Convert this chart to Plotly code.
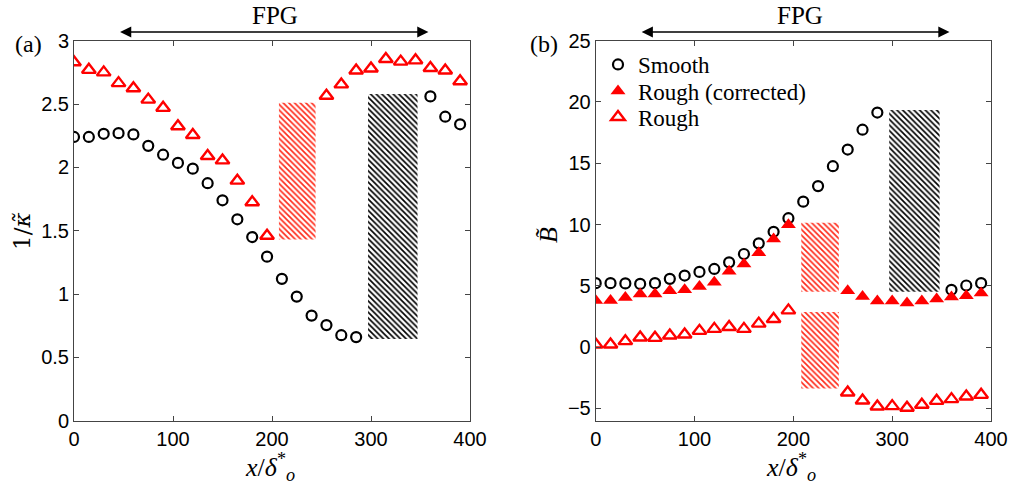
import plotly.graph_objects as go

# ---------------- data ----------------
# Panel (a): 1/kappa
kap_smooth_x = [0, 15, 30, 45, 60, 75, 90, 105, 120, 135, 150, 165, 180, 195, 210, 225, 240, 255, 270, 285, 360, 375, 390]
kap_smooth_y = [2.24, 2.24, 2.265, 2.27, 2.26, 2.17, 2.10, 2.035, 1.99, 1.875, 1.74, 1.59, 1.45, 1.295, 1.12, 0.98, 0.83, 0.755, 0.675, 0.66, 2.56, 2.40, 2.34]
kap_rough_x = [0, 15, 30, 45, 60, 75, 90, 105, 120, 135, 150, 165, 180, 195, 255, 270, 285, 300, 315, 330, 345, 360, 375, 390]
kap_rough_y = [2.83, 2.77, 2.75, 2.665, 2.625, 2.535, 2.47, 2.325, 2.255, 2.09, 2.055, 1.895, 1.725, 1.46, 2.565, 2.655, 2.765, 2.78, 2.855, 2.835, 2.845, 2.785, 2.765, 2.68]

# Panel (b): B
b_smooth_x = [0, 15, 30, 45, 60, 75, 90, 105, 120, 135, 150, 165, 180, 195, 210, 225, 240, 255, 270, 285, 360, 375, 390]
b_smooth_y = [5.22, 5.22, 5.2, 5.16, 5.22, 5.57, 5.84, 6.14, 6.38, 6.92, 7.6, 8.47, 9.41, 10.52, 11.87, 13.14, 14.76, 16.12, 17.74, 19.14, 4.68, 5.03, 5.22]
b_corr_x = [0, 15, 30, 45, 60, 75, 90, 105, 120, 135, 150, 165, 180, 195, 255, 270, 285, 300, 315, 330, 345, 360, 375, 390]
b_corr_y = [3.81, 3.81, 4.06, 4.33, 4.33, 4.6, 4.68, 4.95, 5.3, 6.2, 6.79, 7.71, 8.82, 9.98, 4.6, 4.14, 3.76, 3.76, 3.6, 3.76, 3.92, 4.09, 4.19, 4.41]
b_rough_x = [0, 15, 30, 45, 60, 75, 90, 105, 120, 135, 150, 165, 180, 195, 255, 270, 285, 300, 315, 330, 345, 360, 375, 390]
b_rough_y = [0.22, 0.22, 0.49, 0.79, 0.76, 0.95, 1.03, 1.33, 1.49, 1.65, 1.49, 1.92, 2.3, 3.0, -3.7, -4.35, -4.84, -4.81, -4.94, -4.7, -4.38, -4.24, -4.03, -3.89]

# hatched bands: [x0, x1, y0, y1]
kap_red_band = [207, 244, 1.43, 2.51]
kap_black_band = [297, 347, 0.645, 2.58]
b_red_band_up = [208, 246, 4.52, 10.15]
b_red_band_lo = [208, 246, -3.38, 2.87]
b_black_band = [297, 348, 4.52, 19.35]

fpg_range = [45, 358]

x_ticks = [0, 100, 200, 300, 400]
kap_ticks = [0, 0.5, 1, 1.5, 2, 2.5, 3]
kap_tick_text = ["0", "0.5", "1", "1.5", "2", "2.5", "3"]
b_ticks = [-5, 0, 5, 10, 15, 20, 25]

# ---------------- figure ----------------
W, H = 1013, 491
SERIF = "Liberation Serif, Times New Roman, serif"
SANS = "Liberation Sans, Arial, sans-serif"
RED = "#ff0000"

fig = go.Figure()


def band(b, xa, ya, color):
    x0, x1, y0, y1 = b
    fig.add_trace(go.Scatter(
        x=[x0, x1, x1, x0, x0], y=[y0, y0, y1, y1, y0], xaxis=xa, yaxis=ya,
        mode="lines", line=dict(width=0), fill="toself", fillcolor="rgba(0,0,0,0)",
        fillpattern=dict(shape="\\", fgcolor=color, bgcolor="white", size=4, solidity=0.42),
        showlegend=False, hoverinfo="skip"))


band(kap_red_band, "x", "y", "#ff2a1a")
band(kap_black_band, "x", "y", "black")
band(b_red_band_up, "x2", "y2", "#ff2a1a")
band(b_red_band_lo, "x2", "y2", "#ff2a1a")
band(b_black_band, "x2", "y2", "black")

circ = dict(symbol="circle-open", size=10, color="black", line=dict(width=2.2, color="black"))
tri_open = dict(symbol="triangle-up-open", size=12, color=RED, line=dict(width=2.4, color=RED))
tri_fill = dict(symbol="triangle-up", size=13, color=RED, line=dict(width=0))

fig.add_trace(go.Scatter(x=kap_smooth_x, y=kap_smooth_y, mode="markers", marker=circ,
                         xaxis="x", yaxis="y", showlegend=False))
fig.add_trace(go.Scatter(x=kap_rough_x, y=kap_rough_y, mode="markers", marker=tri_open,
                         xaxis="x", yaxis="y", showlegend=False))

fig.add_trace(go.Scatter(x=b_smooth_x, y=b_smooth_y, mode="markers", marker=circ,
                         xaxis="x2", yaxis="y2", name="Smooth", legend="legend"))
fig.add_trace(go.Scatter(x=b_corr_x, y=b_corr_y, mode="markers", marker=tri_fill,
                         xaxis="x2", yaxis="y2", name="Rough (corrected)", legend="legend2"))
fig.add_trace(go.Scatter(x=b_rough_x, y=b_rough_y, mode="markers", marker=tri_open,
                         xaxis="x2", yaxis="y2", name="Rough", legend="legend3"))

ax_common = dict(showline=True, linecolor="#444444", linewidth=1, mirror="ticks",
                 ticks="inside", ticklen=5, tickcolor="#444444", showgrid=False,
                 zeroline=False, automargin=False,
                 tickfont=dict(family=SANS, size=20, color="black"))


def leg(ytop):
    return dict(x=598 / W, y=1 - ytop / H, xanchor="left", yanchor="top",
                font=dict(family=SERIF, size=23, color="black"), bgcolor="rgba(0,0,0,0)",
                borderwidth=0, tracegroupgap=0, itemwidth=30)


y0d, y1d = 1 - 420.7 / H, 1 - 40.7 / H
fig.update_layout(
    template="none",
    font=dict(family=SERIF, color="black"),
    width=W, height=H, margin=dict(l=0, r=0, t=0, b=0, pad=0, autoexpand=False),
    paper_bgcolor="white", plot_bgcolor="white",
    xaxis=dict(domain=[74 / W, 470 / W], range=[0, 400], tickvals=x_ticks, anchor="y", **ax_common),
    yaxis=dict(domain=[y0d, y1d], range=[0, 3], tickvals=kap_ticks, ticktext=kap_tick_text,
               anchor="x", **ax_common),
    xaxis2=dict(domain=[595.7 / W, 991 / W], range=[0, 400], tickvals=x_ticks, anchor="y2", **ax_common),
    yaxis2=dict(domain=[y0d, y1d], range=[-6, 25], tickvals=b_ticks, anchor="x2", **ax_common),
    legend=leg(43), legend2=leg(69.5), legend3=leg(95.5),
    showlegend=True,
)

# FPG arrows (double-headed)
yarrow = 1 - 32 / H
for xr in ("x", "x2"):
    fig.add_annotation(x=fpg_range[1], y=yarrow, xref=xr, yref="paper",
                       ax=fpg_range[0], ay=0, axref=xr, ayref="pixel",
                       text="", showarrow=True, arrowhead=2, arrowsize=1.6, arrowwidth=1.4,
                       arrowside="end+start", arrowcolor="black", standoff=0, startstandoff=0)

for xr, xc in (("x", 203), ("x2", 207)):
    fig.add_annotation(x=xc, y=1 - 16 / H, xref=xr, yref="paper", text="FPG", showarrow=False,
                       xanchor="center", yanchor="middle",
                       font=dict(family=SERIF, size=25, color="black"))

# panel labels
for xc, lab in ((28, "(a)"), (544, "(b)")):
    fig.add_annotation(x=xc / W, y=1 - 44 / H, xref="paper", yref="paper", text=lab, showarrow=False,
                       xanchor="center", yanchor="middle",
                       font=dict(family=SERIF, size=24, color="black"))

# axis titles
for xc in (270, 791):
    fig.add_annotation(x=xc / W, y=1 - 467 / H, xref="paper", yref="paper",
                       text="<i>x</i>/<i>δ</i><sup>*</sup><sub><i>o</i></sub>", showarrow=False,
                       xanchor="center", yanchor="middle",
                       font=dict(family=SERIF, size=26, color="black"))
fig.add_annotation(x=22 / W, y=1 - 232 / H, xref="paper", yref="paper", text="1/<i>κ\u0303</i>",
                   textangle=-90, showarrow=False, xanchor="center", yanchor="middle",
                   font=dict(family="DejaVu Serif", size=23, color="black"))
fig.add_annotation(x=549 / W, y=1 - 235 / H, xref="paper", yref="paper", text="<i>B\u0303</i>",
                   textangle=-90, showarrow=False, xanchor="center", yanchor="middle",
                   font=dict(family=SERIF, size=26, color="black"))

fig.write_html("out.html")
